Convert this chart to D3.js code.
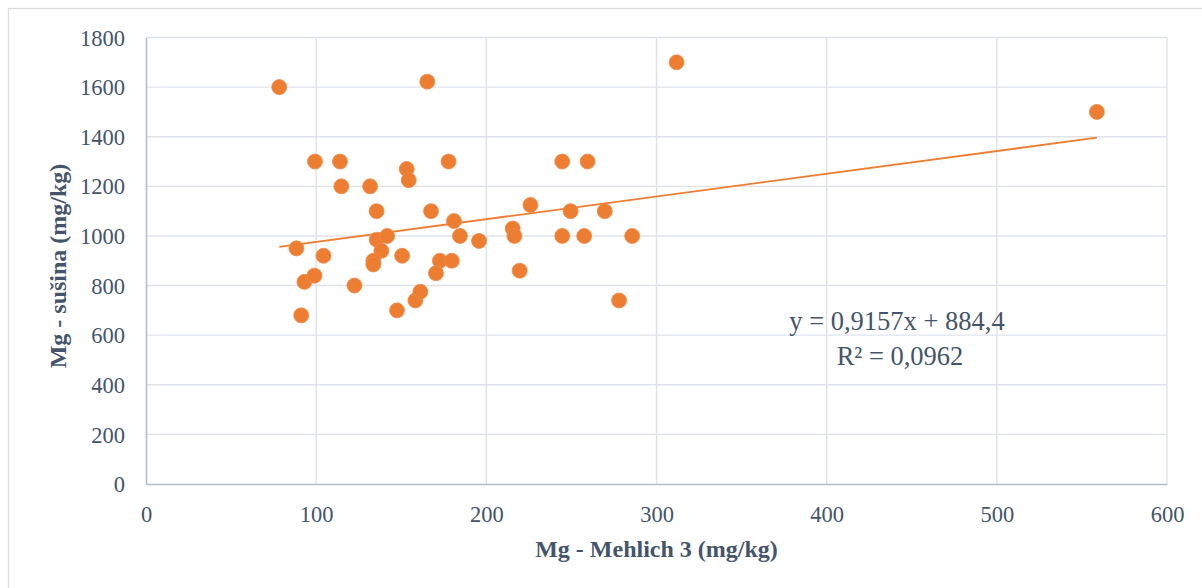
<!DOCTYPE html>
<html>
<head>
<meta charset="utf-8">
<script src="https://cdn.jsdelivr.net/npm/d3@7"></script>
<style>
  html, body { margin: 0; padding: 0; background: #fff; }
  svg { display: block; }
</style>
</head>
<body>
<script>
// Data (Mg - Mehlich 3 vs Mg - sušina)
const mehlichX = [78.3, 311.8, 558.8, 165.3, 99.3, 114, 114.8, 131.7, 135.5, 153.2, 154.4, 177.8, 167.5, 181,
  225.9, 215.5, 216.5, 184.5, 195.7, 135.6, 141.7, 88.4, 104.3, 93.1, 99, 91.2, 122.5, 138.3,
  133.6, 133.6, 150.5, 147.5, 158.3, 161.2, 172.7, 179.7, 170.4, 219.6, 244.6, 259.5, 249.5, 269.6,
  244.6, 257.5, 285.7, 278];
const susinaY = [1600, 1700, 1500, 1622, 1300, 1300, 1200, 1200, 1100, 1270, 1225, 1300, 1100, 1060,
  1125, 1030, 1000, 1000, 980, 985, 1000, 950, 920, 815, 840, 680, 800, 940,
  900, 885, 920, 700, 740, 775, 900, 900, 850, 860, 1300, 1300, 1100, 1100,
  1000, 1000, 1000, 740];
const xTicks = [0, 100, 200, 300, 400, 500, 600];
const yTicks = [0, 200, 400, 600, 800, 1000, 1200, 1400, 1600, 1800];
const trendSlope = 0.9157;
const trendIntercept = 884.4;
const equationText = "y = 0,9157x + 884,4";
const r2Text = "R² = 0,0962";
const xTitle = "Mg - Mehlich 3 (mg/kg)";
const yTitle = "Mg - sušina (mg/kg)";

const W = 1202, H = 588;
const plot = { left: 146, right: 1167, top: 37.5, bottom: 484 };
const textColor = "#44546A";
const gridColor = "#dfe3e9";
const axisColor = "#b4bfcc";
const orange = "#ED7D31";
const font = "'Liberation Serif', 'Times New Roman', serif";

const svg = d3.select("body").append("svg").attr("width", W).attr("height", H)
  .style("font-family", font);

// outer chart border (right/bottom fall outside the picture)
svg.append("rect").attr("x", 8.5).attr("y", 8.5).attr("width", 1210).attr("height", 600)
  .attr("fill", "#fff").attr("stroke", "#d9dce1").attr("stroke-width", 1.2);

const x = d3.scaleLinear().domain([0, 600]).range([plot.left, plot.right]);
const y = d3.scaleLinear().domain([0, 1800]).range([plot.bottom, plot.top]);

// gridlines
const grid = svg.append("g");
grid.selectAll("line.h").data(yTicks.filter(d => d > 0)).join("line")
  .attr("x1", plot.left).attr("x2", plot.right)
  .attr("y1", d => y(d)).attr("y2", d => y(d))
  .attr("stroke", gridColor).attr("stroke-width", 1.4);
grid.selectAll("line.v").data(xTicks.filter(d => d > 0)).join("line")
  .attr("x1", d => x(d)).attr("x2", d => x(d))
  .attr("y1", plot.top).attr("y2", plot.bottom)
  .attr("stroke", gridColor).attr("stroke-width", 1.4);

// axes
const fmt = d3.format("d");
const xAxis = d3.axisBottom(x).tickValues(xTicks).tickFormat(fmt).tickSize(0).tickPadding(22);
const yAxis = d3.axisLeft(y).tickValues(yTicks).tickFormat(fmt).tickSize(0).tickPadding(21);
const gx = svg.append("g").attr("transform", `translate(0,${plot.bottom})`).call(xAxis);
const gy = svg.append("g").attr("transform", `translate(${plot.left},0)`).call(yAxis);
[gx, gy].forEach(g => {
  g.attr("font-family", null).attr("font-size", null);
  g.select(".domain").attr("stroke", axisColor).attr("stroke-width", 1.6);
  g.selectAll("text").style("font-family", font).style("font-size", "22.5px").attr("fill", textColor);
});
gy.selectAll("text").attr("dy", "0.34em");
gx.selectAll("text").attr("dy", "0.71em");

// trendline
const xs = d3.extent(mehlichX);
svg.append("line")
  .attr("x1", x(xs[0])).attr("y1", y(trendSlope * xs[0] + trendIntercept))
  .attr("x2", x(xs[1])).attr("y2", y(trendSlope * xs[1] + trendIntercept))
  .attr("stroke", orange).attr("stroke-width", 1.8);

// points
const pts = mehlichX.map((v, i) => ({ x: v, y: susinaY[i] }));
svg.append("g").selectAll("circle").data(pts).join("circle")
  .attr("cx", d => x(d.x)).attr("cy", d => y(d.y)).attr("r", 7.5)
  .attr("fill", orange).attr("stroke", "#f08c4c").attr("stroke-width", 0.8);

// equation
const eq = svg.append("text").style("font-family", font).style("font-size", "26.5px")
  .attr("fill", textColor).attr("text-anchor", "middle");
eq.append("tspan").attr("x", 897).attr("y", 330).text(equationText);
eq.append("tspan").attr("x", 900).attr("y", 365).text(r2Text);

// axis titles
svg.append("text").attr("x", (plot.left + plot.right) / 2).attr("y", 557)
  .attr("text-anchor", "middle").style("font-family", font).attr("font-weight", "bold")
  .style("font-size", "24px").attr("fill", textColor).text(xTitle);
svg.append("text").attr("transform", "translate(66,266) rotate(-90)")
  .attr("text-anchor", "middle").style("font-family", font).attr("font-weight", "bold")
  .style("font-size", "24px").attr("fill", textColor).text(yTitle);
</script>
</body>
</html>
